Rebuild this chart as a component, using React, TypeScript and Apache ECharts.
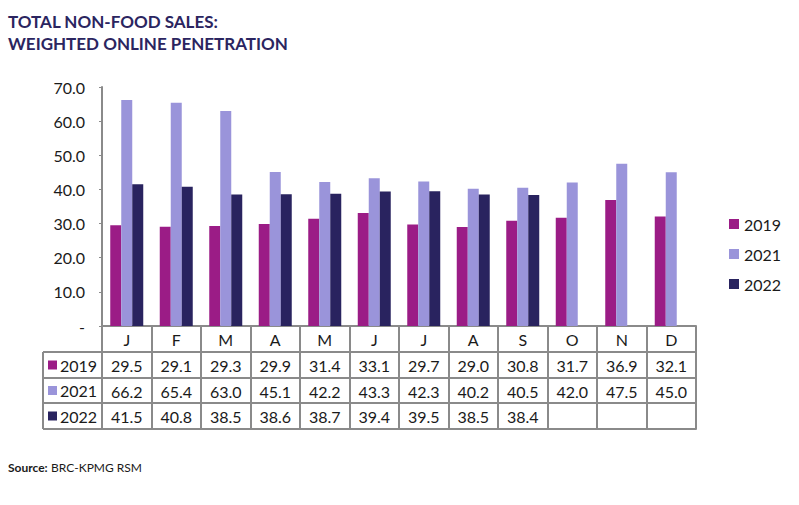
import React, { useEffect, useRef } from "react";
import * as echarts from "echarts";

const months = ["J", "F", "M", "A", "M", "J", "J", "A", "S", "O", "N", "D"];
const seriesNames = ["2019", "2021", "2022"];
const v2019 = [29.5, 29.1, 29.3, 29.9, 31.4, 33.1, 29.7, 29.0, 30.8, 31.7, 36.9, 32.1];
const v2021 = [66.2, 65.4, 63.0, 45.1, 42.2, 43.3, 42.3, 40.2, 40.5, 42.0, 47.5, 45.0];
const v2022: (number | null)[] = [41.5, 40.8, 38.5, 38.6, 38.7, 39.4, 39.5, 38.5, 38.4, null, null, null];
const colors = ["#9b1c86", "#9a94da", "#29235f"];
const yTicks = [0, 10, 20, 30, 40, 50, 60, 70];

const GRID_LEFT = 102;
const GRID_RIGHT_PX = 696;
const AXIS_Y = 326;
const ROW_LINES = [352, 378, 403, 429];
const TABLE_LEFT = 43;
const BORDER = "#8a8a8a";
const FONT = "Lato, 'DejaVu Sans', sans-serif";

export default function App() {
  const ref = useRef<HTMLDivElement>(null);
  useEffect(() => {
    if (!ref.current) return;
    const chart = echarts.init(ref.current, undefined, { renderer: "svg" });
    const fmt = (v: number | null) => (v == null ? "" : v.toFixed(1));
    const rowsData = [v2019, v2021, v2022];

    const extraAxes = ROW_LINES.map((y, i) => ({
      type: "category" as const,
      data: i < 3 ? rowsData[i].map(fmt) : months.map(() => ""),
      position: "bottom" as const,
      offset: y - AXIS_Y,
      boundaryGap: true,
      axisLine: { show: true, lineStyle: { color: BORDER, width: 2 } },
      axisTick: { show: false },
      splitLine: { show: false },
      axisLabel: { show: i < 3, interval: 0, margin: 5, fontSize: 16, color: "#1a1a1a", fontFamily: FONT },
    }));

    const graphics: any[] = [];
    ROW_LINES.forEach((y) => {
      graphics.push({
        type: "line",
        shape: { x1: TABLE_LEFT, y1: y, x2: GRID_LEFT, y2: y },
        style: { stroke: BORDER, lineWidth: 2 },
      });
    });
    graphics.push({
      type: "line",
      shape: { x1: TABLE_LEFT, y1: ROW_LINES[0], x2: TABLE_LEFT, y2: ROW_LINES[3] },
      style: { stroke: BORDER, lineWidth: 2 },
    });
    seriesNames.forEach((name, i) => {
      const cy = (ROW_LINES[i] + ROW_LINES[i + 1]) / 2;
      graphics.push({
        type: "rect",
        shape: { x: 48, y: cy - 4.5, width: 9, height: 9 },
        style: { fill: colors[i] },
      });
      graphics.push({
        type: "text",
        x: 60,
        y: cy,
        style: { text: name, fontSize: 16, fontFamily: FONT, fill: "#1a1a1a", verticalAlign: "middle", align: "left" },
      });
    });
    graphics.push({
      type: "text",
      left: 8,
      top: 10,
      style: {
        text: "TOTAL NON-FOOD SALES:\nWEIGHTED ONLINE PENETRATION",
        fontSize: 17,
        fontWeight: "bold",
        fontFamily: FONT,
        lineHeight: 22,
        fill: "#2b2560",
      },
    });
    graphics.push({
      type: "text",
      left: 8,
      top: 461,
      style: {
        text: "{b|Source:} {r|BRC-KPMG RSM}",
        rich: {
          b: { fontSize: 12, fontWeight: "bold", fontFamily: FONT, fill: "#1a1a1a" },
          r: { fontSize: 12, fontFamily: FONT, fill: "#1a1a1a" },
        },
      },
    });

    chart.setOption({
      animation: false,
      backgroundColor: "#ffffff",
      color: colors,
      grid: { left: GRID_LEFT, right: 799 - GRID_RIGHT_PX, top: 87, bottom: 505 - AXIS_Y, containLabel: false },
      legend: {
        orient: "vertical",
        left: 724,
        top: 211,
        itemWidth: 10,
        itemHeight: 10,
        itemGap: 14,
        icon: "rect",
        data: seriesNames,
        textStyle: { fontSize: 16, fontFamily: FONT, color: "#1a1a1a" },
      },
      xAxis: [
        {
          type: "category",
          data: months,
          position: "bottom",
          boundaryGap: true,
          axisLine: { show: true, lineStyle: { color: BORDER, width: 2 } },
          axisTick: { show: true, interval: 0, length: ROW_LINES[3] - AXIS_Y, lineStyle: { color: BORDER, width: 2 } },
          axisLabel: { interval: 0, margin: 5, fontSize: 16, color: "#1a1a1a", fontFamily: FONT },
        },
        ...extraAxes,
      ],
      yAxis: {
        type: "value",
        min: yTicks[0],
        max: yTicks[yTicks.length - 1],
        interval: 10,
        axisLine: { show: true, lineStyle: { color: BORDER, width: 2 } },
        axisTick: { show: true, length: 3, lineStyle: { color: BORDER, width: 1 } },
        splitLine: { show: false },
        axisLabel: {
          margin: 17,
          fontSize: 16,
          color: "#1a1a1a",
          fontFamily: FONT,
          formatter: (v: number) => (v === 0 ? "-" : v.toFixed(1)),
        },
      },
      series: [v2019, v2021, v2022].map((d, i) => ({
        name: seriesNames[i],
        type: "bar",
        data: d,
        barWidth: 11,
        barGap: "0%",
        itemStyle: { color: colors[i] },
      })),
      graphic: graphics,
    });
    return () => chart.dispose();
  }, []);
  return <div ref={ref} style={{ width: 799, height: 505, position: "absolute", left: 0, top: 0 }} />;
}
